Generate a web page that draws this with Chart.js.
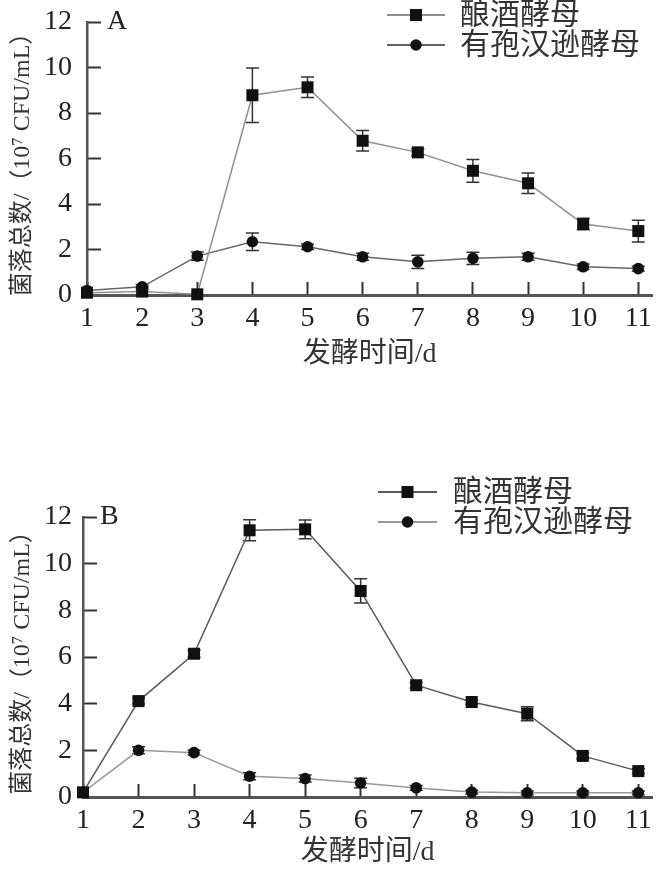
<!DOCTYPE html>
<html><head><meta charset="utf-8">
<script src="https://cdn.jsdelivr.net/npm/chart.js@4.4.1/dist/chart.umd.min.js"></script>
<style>
html,body{margin:0;padding:0;background:#fff;width:672px;height:872px;overflow:hidden;position:relative}
canvas{position:absolute;left:0}
#cA{top:-30px}
#cB{top:436px}
</style></head><body>
<canvas id="cA" width="672" height="466"></canvas>
<canvas id="cB" width="672" height="436"></canvas>
<script>
// ---------- data ----------
const days = [1, 2, 3, 4, 5, 6, 7, 8, 9, 10, 11];
const yTickValues = [0, 2, 4, 6, 8, 10, 12];
const seriesNames = ['酿酒酵母', '有孢汉逊酵母'];
const xTitle = '发酵时间/d';
const yTitle = '菌落总数/（10⁷ CFU/mL）';

// Panel A
const aSacch    = [0.1, 0.15, 0.03, 8.78, 9.13, 6.78, 6.27, 5.46, 4.91, 3.12, 2.81];
const aSacchErr = [0, 0.2, 0, 1.2, 0.45, 0.45, 0.15, 0.5, 0.45, 0.25, 0.48];
const aHans     = [0.2, 0.36, 1.71, 2.34, 2.12, 1.68, 1.46, 1.61, 1.68, 1.24, 1.16];
const aHansErr  = [0, 0.1, 0.18, 0.38, 0.12, 0.15, 0.29, 0.27, 0.15, 0.12, 0.1];

// Panel B
const bSacch    = [0.2, 4.11, 6.14, 11.43, 11.47, 8.83, 4.79, 4.07, 3.57, 1.76, 1.11];
const bSacchErr = [0, 0.12, 0.15, 0.45, 0.4, 0.52, 0.12, 0.1, 0.3, 0.12, 0.1];
const bHans     = [0.2, 2.0, 1.9, 0.89, 0.79, 0.6, 0.39, 0.21, 0.18, 0.18, 0.18];
const bHansErr  = [0, 0.15, 0.1, 0.15, 0.15, 0.2, 0.1, 0.08, 0.08, 0.08, 0.08];

// ---------- helpers ----------
const FAMILY = "'Liberation Serif', 'Noto Sans CJK SC', serif";
Chart.defaults.font.family = FAMILY;
Chart.defaults.color = '#222';

const errorBars = {
  id: 'errorBars',
  beforeDatasetsDraw(chart, args, o) {
    const {ctx, scales: {x, y}} = chart;
    ctx.save();
    ctx.strokeStyle = o.color;
    ctx.lineWidth = o.width;
    chart.data.datasets.forEach(ds => {
      if (!ds.errors) return;
      ds.data.forEach((p, i) => {
        const e = ds.errors[i];
        if (!e) return;
        const px = x.getPixelForValue(p.x);
        const y1 = y.getPixelForValue(p.y + e);
        const y2 = y.getPixelForValue(Math.max(0, p.y - e));
        ctx.beginPath();
        ctx.moveTo(px, y1); ctx.lineTo(px, y2);
        ctx.moveTo(px - o.cap, y1); ctx.lineTo(px + o.cap, y1);
        ctx.moveTo(px - o.cap, y2); ctx.lineTo(px + o.cap, y2);
        ctx.stroke();
      });
    });
    ctx.restore();
  }
};

const sideLegend = {
  id: 'sideLegend',
  afterDraw(chart, args, o) {
    const ctx = chart.ctx;
    chart.data.datasets.forEach((ds, i) => {
      const yy = o.y + i * o.gap;
      ctx.save();
      ctx.strokeStyle = ds.borderColor;
      ctx.lineWidth = o.lineWidth;
      ctx.beginPath();
      ctx.moveTo(o.x, yy); ctx.lineTo(o.x + o.len, yy);
      ctx.stroke();
      ctx.fillStyle = ds.pointBackgroundColor;
      const cx = o.x + o.len / 2;
      if (ds.pointStyle === 'rect') {
        const s = Math.SQRT1_2 * ds.pointRadius;
        ctx.fillRect(cx - s, yy - s, 2 * s, 2 * s);
      } else {
        ctx.beginPath();
        ctx.arc(cx, yy, ds.pointRadius, 0, Math.PI * 2);
        ctx.fill();
      }
      ctx.fillStyle = o.textColor;
      ctx.font = o.fontSize + 'px ' + FAMILY;
      ctx.textBaseline = 'middle';
      ctx.textAlign = 'left';
      ctx.fillText(ds.label, o.textX, yy + 1);
      ctx.restore();
    });
  }
};

const panelLabel = {
  id: 'panelLabel',
  afterDraw(chart, args, o) {
    const {ctx, chartArea} = chart;
    ctx.save();
    ctx.fillStyle = '#222';
    ctx.font = o.fontSize + 'px ' + FAMILY;
    ctx.textBaseline = 'middle';
    ctx.textAlign = 'left';
    ctx.fillText(o.text, chartArea.left + o.dx, chartArea.top + o.dy);
    ctx.restore();
  }
};

function makeChart(id, sc, scErr, hu, huErr, cfg) {
  const toPts = arr => days.map((d, i) => ({x: d, y: arr[i]}));
  return new Chart(document.getElementById(id), {
    type: 'line',
    data: {
      datasets: [
        {
          label: seriesNames[0], data: toPts(sc), errors: scErr,
          borderColor: cfg.scLine, borderWidth: 1.5,
          pointStyle: 'rect', pointRadius: 8.5,
          pointBackgroundColor: '#111', pointBorderColor: '#111', pointBorderWidth: 0,
          clip: false, tension: 0
        },
        {
          label: seriesNames[1], data: toPts(hu), errors: huErr,
          borderColor: cfg.huLine, borderWidth: 1.5,
          pointStyle: 'circle', pointRadius: 5.8,
          pointBackgroundColor: '#111', pointBorderColor: '#111', pointBorderWidth: 0,
          clip: false, tension: 0
        }
      ]
    },
    options: {
      responsive: false, animation: false, devicePixelRatio: 1,
      layout: {padding: {left: 0, right: 5, top: cfg.padTop, bottom: cfg.padBottom}},
      plugins: {
        legend: {display: false}, tooltip: {enabled: false},
        errorBars: {color: '#333', width: 1.5, cap: 6.5},
        sideLegend: cfg.legend,
        panelLabel: cfg.panel
      },
      scales: {
        x: {
          type: 'linear', min: 1, max: 11.25,
          afterFit: s => { s.height = cfg.xHeight; },
          ticks: {stepSize: 1, includeBounds: false, padding: cfg.xPad,
                  font: {size: 28}, color: '#222', maxRotation: 0, autoSkip: false},
          grid: {drawOnChartArea: false, drawTicks: true, tickLength: -13, tickColor: '#333', tickWidth: 2},
          border: {display: true, color: '#555', width: 3},
          title: {display: true, text: xTitle, font: {size: 28}, color: '#333',
                  padding: {top: 0, bottom: cfg.xTitlePad}}
        },
        y: {
          type: 'linear', min: 0, max: 12,
          afterFit: s => { s.width = cfg.yWidth; },
          afterBuildTicks: s => { s.ticks = yTickValues.map(v => ({value: v})); },
          ticks: {padding: cfg.yPad, font: {size: 28}, color: '#222'},
          grid: {drawOnChartArea: false, drawTicks: true, tickLength: -14, tickColor: '#333', tickWidth: 2},
          border: {display: true, color: '#555', width: 2.5},
          title: {display: true, text: yTitle, font: {size: 24}, color: '#333',
                  padding: {top: 8, bottom: 0}}
        }
      }
    },
    plugins: [errorBars, sideLegend, panelLabel]
  });
}

makeChart('cA', aSacch, aSacchErr, aHans, aHansErr, {
  scLine: '#909090', huLine: '#666666',
  padTop: 52, padBottom: 60, xHeight: 81, yWidth: 87,
  xPad: 20, yPad: 29, xTitlePad: 5,
  legend: {x: 387, y: 45, gap: 30, len: 58, lineWidth: 2, textX: 460, fontSize: 30, textColor: '#333'},
  panel: {text: 'A', dx: 20, dy: 0, fontSize: 28}
});

makeChart('cB', bSacch, bSacchErr, bHans, bHansErr, {
  scLine: '#5a5a5a', huLine: '#999999',
  padTop: 81, padBottom: 0, xHeight: 75, yWidth: 83,
  xPad: 20, yPad: 25, xTitlePad: 3,
  legend: {x: 378, y: 56, gap: 30, len: 59, lineWidth: 2, textX: 453, fontSize: 30, textColor: '#333'},
  panel: {text: 'B', dx: 17, dy: 0, fontSize: 28}
});
</script>
</body></html>
